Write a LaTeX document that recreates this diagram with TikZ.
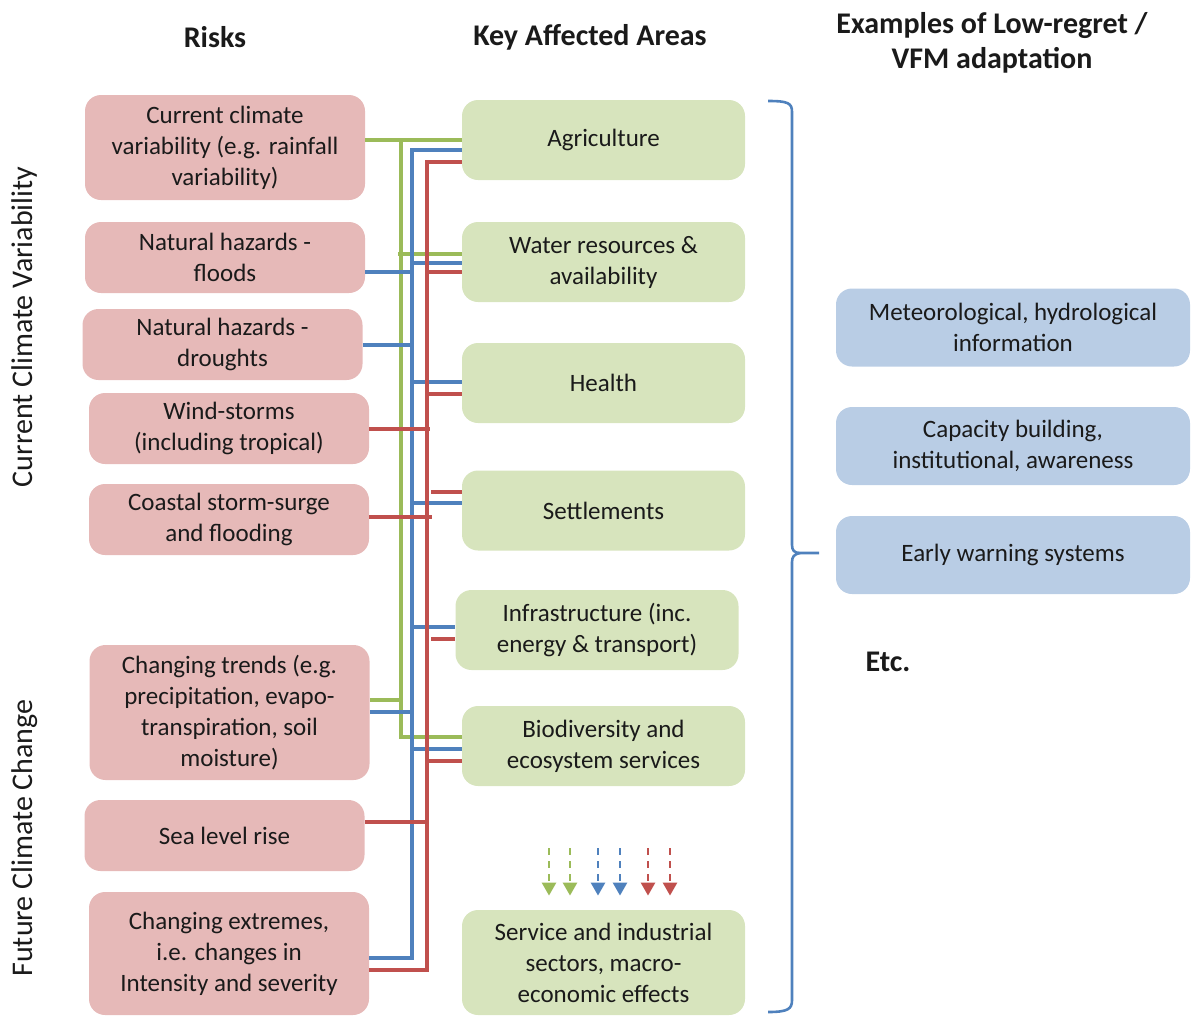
\documentclass[tikz,border=0pt]{standalone}
\usepackage{fontspec}
\setmainfont{Carlito}
\usetikzlibrary{arrows.meta}
\definecolor{riskfill}{HTML}{E6B9B8}
\definecolor{areafill}{HTML}{D7E4BD}
\definecolor{adaptfill}{HTML}{B9CDE5}
\definecolor{lgreen}{HTML}{9BBB59}
\definecolor{lblue}{HTML}{4F81BD}
\definecolor{lred}{HTML}{C0504D}
\definecolor{ink}{HTML}{1A1A1A}
\begin{document}
\begin{tikzpicture}[x=0.5pt,y=-0.5pt,
  box/.style={rounded corners=8pt, inner sep=0pt, align=center, text=ink,
    font=\fontsize{12.5}{15.5}\selectfont},
  risk/.style={box, fill=riskfill, minimum width=140pt},
  area/.style={box, fill=areafill, minimum width=141.5pt, minimum height=40pt},
  adapt/.style={box, fill=adaptfill, minimum width=177pt, minimum height=39pt},
  head/.style={font=\fontsize{15}{17.5}\selectfont\bfseries, text=ink, align=center},
  side/.style={font=\fontsize{15}{18}\selectfont, text=ink, rotate=90},
  gline/.style={lgreen, line width=1.6pt},
  bline/.style={lblue, line width=1.6pt},
  rline/.style={lred, line width=1.6pt},
  bracket/.style={lblue, line width=1.3pt},
  flowdown/.style={line width=1.3pt, dash pattern=on 3.5pt off 3pt,
    -{Triangle[width=7pt,length=6.5pt]}, shorten >=7pt}
]
\useasboundingbox (0,0) rectangle (1192,1017);

% column headings
\node[head] (hrisk) at (215,37) {Risks};
\node[head] (harea) at (590,37) {Key Affected Areas};
\node[head] (hadapt) at (992,43) {Examples of Low-regret /\\VFM adaptation};

% side labels
\node[side] (scv) at (25,327) {Current Climate Variability};
\node[side] (sfc) at (25,838) {Future Climate Change};

% risks
\node[risk, minimum height=52.5pt] (r1) at (225,147.5) {Current climate\\variability (e.g. rainfall\\variability)};
\node[risk, minimum height=35.5pt] (r2) at (225,257.5) {Natural hazards -\\floods};
\node[risk, minimum height=35.5pt] (r3) at (222.5,344.5) {Natural hazards -\\droughts};
\node[risk, minimum height=35.5pt] (r4) at (229,428.5) {Wind-storms\\(including tropical)};
\node[risk, minimum height=35.5pt] (r5) at (229,519.5) {Coastal storm-surge\\and flooding};
\node[risk, minimum height=67.5pt] (r6) at (229.5,712.5) {Changing trends (e.g.\\precipitation, evapo-\\transpiration, soil\\moisture)};
\node[risk, minimum height=35.5pt] (r7) at (224.5,835.5) {Sea level rise};
\node[risk, minimum height=61.5pt] (r8) at (229,953.5) {Changing extremes,\\i.e. changes in\\Intensity and severity};

% key affected areas
\node[area] (a1) at (603.5,140) {Agriculture};
\node[area] (a2) at (603.5,262) {Water resources \&\\availability};
\node[area] (a3) at (603.5,383) {Health};
\node[area] (a4) at (603.5,510.5) {Settlements};
\node[area] (a5) at (597,630) {Infrastructure (inc.\\energy \& transport)};
\node[area] (a6) at (603.5,746) {Biodiversity and\\ecosystem services};
\node[area, minimum height=52.5pt] (a7) at (603.5,962.5) {Service and industrial\\sectors, macro-\\economic effects};

% adaptation examples
\node[adapt] (e1) at (1013,327.5) {Meteorological, hydrological\\information};
\node[adapt] (e2) at (1013,446) {Capacity building,\\institutional, awareness};
\node[adapt] (e3) at (1013,555) {Early warning systems};
\node[head] (etc) at (888,662) {Etc.};

% green bus
\draw[gline] (r1.east |- 0,140) -- (a1.west |- 0,140);
\draw[gline] (401,140) |- (a6.west |- 0,737);
\draw[gline] (398,254) -- (a2.west |- 0,254);
\draw[gline] (r6.east |- 0,700) -- (401,700);

% blue bus
\draw[bline] (a1.west |- 0,150) -| (412,958) -- (r8.east |- 0,958);
\draw[bline] (r2.east |- 0,272) -- (412,272);
\draw[bline] (412,263) -- (a2.west |- 0,263);
\draw[bline] (r3.east |- 0,345) -- (412,345);
\draw[bline] (412,382) -- (a3.west |- 0,382);
\draw[bline] (412,503) -- (a4.west |- 0,503);
\draw[bline] (412,627) -- (a5.west |- 0,627);
\draw[bline] (r6.east |- 0,712) -- (412,712);
\draw[bline] (412,749) -- (a6.west |- 0,749);

% red bus
\draw[rline] (a1.west |- 0,162) -| (427,970) -- (r8.east |- 0,970);
\draw[rline] (427,272) -- (a2.west |- 0,272);
\draw[rline] (427,394) -- (a3.west |- 0,394);
\draw[rline] (r4.east |- 0,429) -- (430,429);
\draw[rline] (431,492) -- (a4.west |- 0,492);
\draw[rline] (r5.east |- 0,517) -- (432,517);
\draw[rline] (431,639) -- (a5.west |- 0,639);
\draw[rline] (427,761) -- (a6.west |- 0,761);
\draw[rline] (r7.east |- 0,822) -- (427,822);

% knock-on effects into the wider economy
\foreach \xx/\cc [count=\i] in {549/lgreen,570/lgreen,598/lblue,620/lblue,648/lred,670/lred}{
  \coordinate (ds\i) at (\xx,848);
  \draw[flowdown,\cc] (ds\i) -- (ds\i |- a7.north);
}

% brace grouping the affected areas
\draw[bracket] (768,101) .. controls (788,101) and (792,103) .. (792,112)
  -- (792,545) .. controls (792,550) and (794,553) .. (800,553) -- (819,553);
\draw[bracket] (800,553) .. controls (794,554) and (792,557) .. (792,562)
  -- (792,1000) .. controls (792,1009) and (788,1012) .. (768,1012);
\end{tikzpicture}
\end{document}
